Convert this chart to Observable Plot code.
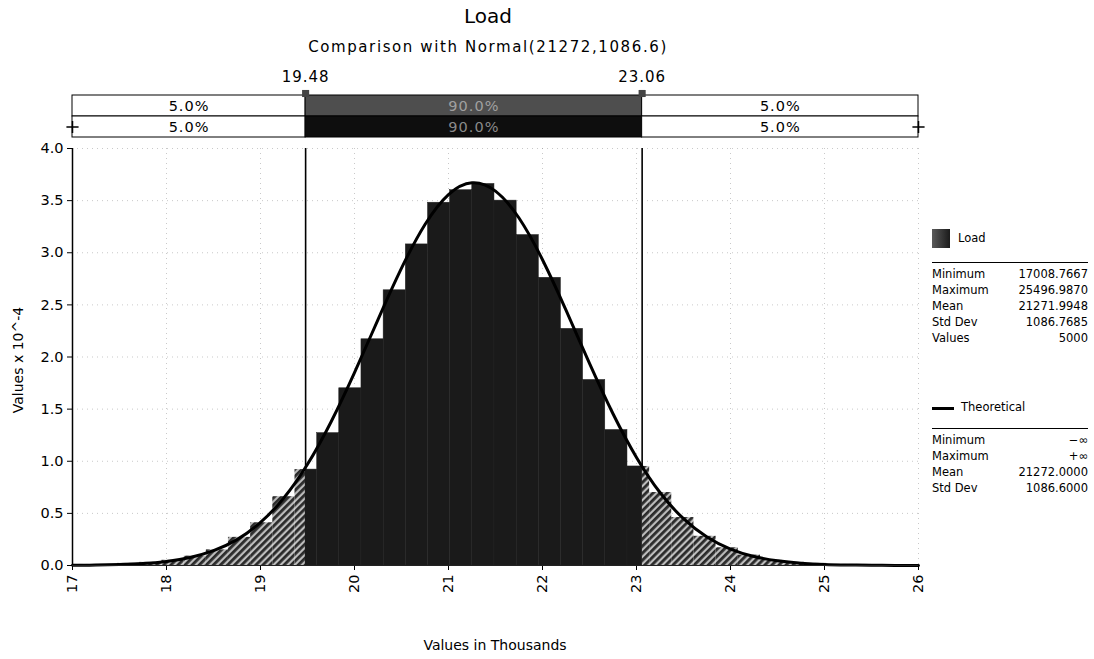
<!DOCTYPE html>
<html><head><meta charset="utf-8">
<script src="https://cdn.jsdelivr.net/npm/d3@7"></script>
<script src="https://cdn.jsdelivr.net/npm/@observablehq/plot@0.6"></script>
<style>
body{margin:0;background:#fff;}
#wrap{position:relative;width:1094px;height:659px;overflow:hidden;font-family:"DejaVu Sans",sans-serif;color:#000;background:#fff;}
.abs{position:absolute;white-space:nowrap;}
#wrap svg{position:absolute;left:0;}
</style></head><body><div id="wrap"></div>
<script>
// ---- data (values in thousands; densities in units of 10^-4) ----
const binEdges = [17.009,17.245,17.480,17.716,17.952,18.188,18.424,18.659,18.895,19.131,19.367,19.603,19.838,20.074,20.310,20.546,20.782,21.017,21.253,21.489,21.725,21.961,22.196,22.432,22.668,22.904,23.140,23.375,23.611,23.847,24.083,24.319,24.554,24.790,25.026,25.262,25.497];
const binDensity = [0.01,0.01,0.02,0.03,0.05,0.09,0.15,0.27,0.41,0.66,0.92,1.27,1.70,2.17,2.64,3.08,3.48,3.60,3.66,3.50,3.17,2.76,2.27,1.78,1.30,0.95,0.70,0.46,0.28,0.17,0.10,0.05,0.03,0.02,0.01,0.01];
const curveX = [17,17.25,17.5,17.75,18,18.25,18.5,18.75,19,19.25,19.5,19.75,20,20.25,20.5,20.75,21,21.25,21.5,21.75,22,22.25,22.5,22.75,23,23.25,23.5,23.75,24,24.25,24.5,24.75,25,25.25,25.5,25.75,26];
const curveY = [0.002,0.004,0.009,0.019,0.039,0.077,0.142,0.248,0.413,0.650,0.971,1.377,1.850,2.359,2.852,3.271,3.558,3.671,3.591,3.333,2.933,2.449,1.939,1.456,1.037,0.700,0.449,0.273,0.157,0.086,0.045,0.022,0.010,0.005,0.002,0.001,0.0003];
const delimiters = [19.48, 23.06];
const bandRows = ["r1","r2"];
const bandPercents = ["5.0%","90.0%","5.0%"];
const xTicks = [17,18,19,20,21,22,23,24,25,26];
const yTicks = [0,0.5,1,1.5,2,2.5,3,3.5,4];
const loadLabels = ["Minimum","Maximum","Mean","Std Dev","Values"];
const loadValues = ["17008.7667","25496.9870","21271.9948","1086.7685","5000"];
const theoLabels = ["Minimum","Maximum","Mean","Std Dev"];
const theoValues = ["\u2212\u221e","+\u221e","21272.0000","1086.6000"];

const wrap = document.getElementById("wrap");
const font = '"DejaVu Sans", sans-serif';
const xDomain = [17, 26];
const mL = 72, mR = 176;

function addDiv(html, css){ const d=document.createElement("div"); d.className="abs"; d.innerHTML=html; Object.assign(d.style, css); wrap.appendChild(d); return d; }

// ---- histogram segments, split at delimiters ----
const segs = [];
binDensity.forEach((v,i)=>{
  let cuts = [binEdges[i], ...delimiters.filter(d=>d>binEdges[i] && d<binEdges[i+1]), binEdges[i+1]];
  for (let k=0;k<cuts.length-1;k++){
    const a=cuts[k], b=cuts[k+1], m=(a+b)/2;
    segs.push({x1:a, x2:b, y:v, tail: m<delimiters[0] || m>delimiters[1]});
  }
});
const curve = curveX.map((x,i)=>({x, y: curveY[i]}));

// ---- main chart ----
const main = Plot.plot({
  width: 1094, height: 519,
  marginLeft: mL, marginRight: mR, marginTop: 8, marginBottom: 94,
  style: {fontFamily: font, fontSize: "14.5px", background: "transparent", color:"#000"},
  x: {domain: xDomain, ticks: xTicks, tickFormat: d=>String(d), tickRotate: -90, tickSize: 5, label: null},
  y: {domain: [0,4], ticks: yTicks, tickFormat: d=>d.toFixed(1), tickSize: 5, label: null},
  marks: [
    Plot.gridY(yTicks, {stroke:"#888", strokeOpacity:0.45, strokeDasharray:"1,4"}),
    Plot.gridX(xTicks, {stroke:"#888", strokeOpacity:0.45, strokeDasharray:"1,4"}),
    Plot.ruleX(delimiters, {stroke:"#000", strokeWidth:1.6}),
    Plot.rectY(segs.filter(d=>d.tail), {x1:"x1", x2:"x2", y:"y", fill:"url(#hatch)"}),
    Plot.rectY(segs.filter(d=>!d.tail), {x1:"x1", x2:"x2", y:"y", fill:"#1a1a1a", stroke:"#222", strokeWidth:0.5}),
    Plot.line(curve, {x:"x", y:"y", stroke:"#000", strokeWidth:3, curve:"natural"}),
    Plot.ruleX([xDomain[0]], {stroke:"#000", strokeWidth:1.5}),
    Plot.ruleY([0], {stroke:"#222", strokeWidth:1})
  ]
});
main.style.top = "140px";
const sel = d3.select(main);
const pat = sel.insert("defs", ":first-child").append("pattern")
  .attr("id","hatch").attr("patternUnits","userSpaceOnUse")
  .attr("width",5).attr("height",5).attr("patternTransform","rotate(45)");
pat.append("rect").attr("width",5).attr("height",5).attr("fill","#bdbdbd");
pat.append("line").attr("x1",1.4).attr("y1",0).attr("x2",1.4).attr("y2",5).attr("stroke","#2a2a2a").attr("stroke-width",2.8);
wrap.appendChild(main);

// ---- delimiter band ----
const bounds = [xDomain[0], ...delimiters, xDomain[1]];
const cells = [];
bandRows.forEach((r,ri)=>bandPercents.forEach((t,ci)=>{
  cells.push({row:r, x1:bounds[ci], x2:bounds[ci+1], text:t, mid: ci===1, ri});
}));
const band = Plot.plot({
  width: 1094, height: 140,
  marginLeft: mL, marginRight: mR, marginTop: 95, marginBottom: 3,
  style: {fontFamily: font, fontSize: "14px", background: "transparent", overflow: "visible", letterSpacing: "1px"},
  x: {domain: xDomain, axis: null},
  y: {domain: bandRows, axis: null, padding: 0},
  marks: [
    Plot.barX(cells, {x1:"x1", x2:"x2", y:"row", fill: d=> d.mid ? (d.ri===0 ? "#4e4e4e" : "#0e0e0e") : "#fff", stroke:"#000", strokeWidth:1}),
    Plot.text(cells, {x: d=>(d.x1+d.x2)/2, y:"row", text:"text", fill: d=> d.mid ? (d.ri===0 ? "#a0a0a0" : "#8a8a8a") : "#000", fontSize: 14.5}),
    Plot.text(delimiters, {x: d=>d, text: d=>d.toFixed(2), frameAnchor:"top", dy:-24, fontSize: 15, fill:"#000"}),
    Plot.dot(delimiters, {x: d=>d, frameAnchor:"top", symbol:"square", r:4, fill:"#444", dy:-2}),
    Plot.dot(xDomain, {x: d=>d, y: ()=>"r2", symbol:"plus", r:4, stroke:"#000", strokeWidth:1.5})
  ]
});
band.style.top = "0px";
wrap.appendChild(band);

// ---- titles ----
addDiv("Load", {left:"0px", width:"976px", textAlign:"center", top:"4px", fontSize:"20px"});
addDiv("Comparison with Normal(21272,1086.6)", {left:"0px", width:"976px", textAlign:"center", top:"38px", fontSize:"15px", letterSpacing:"1.6px"});
addDiv("Values x 10^-4", {left:"18px", top:"360px", fontSize:"14px", transform:"translate(-50%,-50%) rotate(-90deg)"});
addDiv("Values in Thousands", {left:"0px", width:"990px", textAlign:"center", top:"637px", fontSize:"14px"});

// ---- legend ----
addDiv("", {left:"932px", top:"229px", width:"18px", height:"19px", background:"linear-gradient(90deg,#5a5a5a,#1a1a1a)"});
addDiv("Load", {left:"958px", top:"231px", fontSize:"11.5px"});
addDiv("", {left:"932px", top:"262px", width:"156px", height:"0px", borderTop:"1px solid #000"});
loadLabels.forEach((l,i)=>{
  addDiv(l, {left:"932px", top:(267+i*16)+"px", fontSize:"11.5px"});
  addDiv(loadValues[i], {left:"988px", width:"100px", textAlign:"right", top:(267+i*16)+"px", fontSize:"11.5px"});
});
addDiv("", {left:"932px", top:"407px", width:"22px", height:"0px", borderTop:"3px solid #000"});
addDiv("Theoretical", {left:"961px", top:"400px", fontSize:"11.5px"});
addDiv("", {left:"932px", top:"428px", width:"156px", height:"0px", borderTop:"1px solid #000"});
theoLabels.forEach((l,i)=>{
  addDiv(l, {left:"932px", top:(433+i*16)+"px", fontSize:"11.5px"});
  addDiv(theoValues[i], {left:"988px", width:"100px", textAlign:"right", top:(433+i*16)+"px", fontSize:"11.5px"});
});
</script></body></html>
